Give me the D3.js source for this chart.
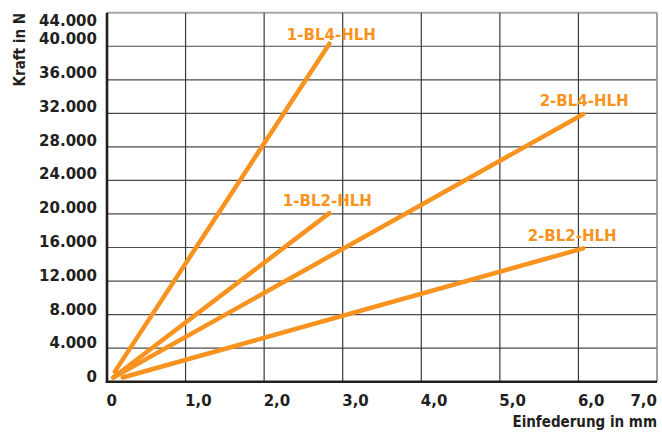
<!DOCTYPE html>
<html>
<head>
<meta charset="utf-8">
<script src="https://cdn.jsdelivr.net/npm/d3@7"></script>
<style>
    body { margin: 0; background: #fff; }
    svg { display: block; }
</style>
</head>
<body>
<svg id="chart" width="662" height="438"></svg>
<script>
// values
const seriesNames = ["1-BL4-HLH", "1-BL2-HLH", "2-BL4-HLH", "2-BL2-HLH"];
const seriesX = [
    [0.10, 2.83],
    [0.08, 2.83],
    [0.08, 6.06],
    [0.20, 6.06]
];
const seriesY = [
    [1200, 40300],
    [500, 20100],
    [500, 31900],
    [500, 15900]
];
const xTicks = [0, 1, 2, 3, 4, 5, 6, 7];
const xTickLabels = ["0", "1,0", "2,0", "3,0", "4,0", "5,0", "6,0", "7,0"];
const yTicks = [0, 4000, 8000, 12000, 16000, 20000, 24000, 28000, 32000, 36000, 40000, 44000];
const yTickLabels = ["0", "4.000", "8.000", "12.000", "16.000", "20.000", "24.000", "28.000", "32.000", "36.000", "40.000", "44.000"];

const orange = "#f7931e",
    ink = "#231f20";

const margin = {top: 12.7, right: 5, bottom: 56.3, left: 107},
    width = 662 - margin.left - margin.right,
    height = 438 - margin.top - margin.bottom;

const x = d3.scaleLinear().domain([0, 7]).range([0, width]);
const y = d3.scaleLinear().domain([0, 44000]).range([height, 0]);

const svg = d3.select("#chart");
const g = svg.append("g")
    .attr("transform", `translate(${margin.left},${margin.top})`);

// grid
g.append("g")
    .selectAll("line")
    .data(yTicks.filter(v => v > 0))
    .join("line")
    .attr("x1", 0)
    .attr("x2", width)
    .attr("y1", d => y(d))
    .attr("y2", d => y(d))
    .style("stroke", d => d === 44000 ? "#a8a8a8" : "#4a4a4a")
    .style("stroke-width", d => d === 44000 ? 2 : 1.2);

g.append("g")
    .selectAll("line")
    .data(xTicks.filter(v => v > 0))
    .join("line")
    .attr("x1", d => x(d))
    .attr("x2", d => x(d))
    .attr("y1", 0)
    .attr("y2", height)
    .style("stroke", d => d === 7 ? "#8a8a8a" : "#3a3a3a")
    .style("stroke-width", d => d === 7 ? 1.6 : 1.2);

// axes
g.append("line")
    .attr("x1", 0).attr("x2", 0)
    .attr("y1", 0).attr("y2", height + 1.2)
    .style("stroke", ink)
    .style("stroke-width", 2.6);

g.append("line")
    .attr("x1", -1.2).attr("x2", width)
    .attr("y1", height).attr("y2", height)
    .style("stroke", ink)
    .style("stroke-width", 2.6);

// tick labels
g.append("g")
    .selectAll("text")
    .data(yTicks)
    .join("text")
    .attr("x", -10)
    .attr("y", d => d === 44000 ? y(d) + 8 : y(d) - 5 - d / 44000 * 2.5)
    .attr("dy", "0.36em")
    .attr("text-anchor", "end")
    .style("font-family", "DejaVu Sans")
    .style("font-weight", "bold")
    .style("font-size", "15px")
    .style("fill", ink)
    .text((d, i) => yTickLabels[i]);

g.append("g")
    .selectAll("text")
    .data(xTicks)
    .join("text")
    .attr("x", d => d === 7 ? x(d) : x(d) - 0.5)
    .attr("y", height + 18.5)
    .attr("dy", "0.36em")
    .attr("text-anchor", d => d === 7 ? "end" : "start")
    .style("font-family", "DejaVu Sans")
    .style("font-weight", "bold")
    .style("font-size", "15px")
    .style("fill", ink)
    .text((d, i) => xTickLabels[i]);

// axis titles
svg.append("text")
    .attr("x", 657)
    .attr("y", 421.7)
    .attr("dy", "0.36em")
    .attr("text-anchor", "end")
    .style("font-family", "DejaVu Sans Condensed")
    .style("font-weight", "bold")
    .style("font-size", "15px")
    .style("fill", ink)
    .text("Einfederung in mm");

svg.append("text")
    .attr("transform", "translate(20,13) rotate(-90)")
    .attr("dy", "0.36em")
    .attr("text-anchor", "end")
    .style("font-family", "DejaVu Sans Condensed")
    .style("font-weight", "bold")
    .style("font-size", "15px")
    .style("fill", ink)
    .text("Kraft in N");

// series
const line = d3.line()
    .x(d => x(d[0]))
    .y(d => y(d[1]));

const labelShift = {
    "1-BL4-HLH": [2, -9],
    "1-BL2-HLH": [-2, -13],
    "2-BL4-HLH": [1, -14],
    "2-BL2-HLH": [-11, -13]
};

seriesNames.forEach((name, i) => {
    let pts = seriesX[i].map((v, j) => [v, seriesY[i][j]]);
    g.append("path")
        .attr("d", line(pts))
        .style("fill", "none")
        .style("stroke", orange)
        .style("stroke-width", 4.5)
        .style("stroke-linecap", "round");

    let end = pts[pts.length - 1];
    g.append("text")
        .attr("x", x(end[0]) + labelShift[name][0])
        .attr("y", y(end[1]) + labelShift[name][1])
        .attr("dy", "0.36em")
        .attr("text-anchor", "middle")
        .style("font-family", "DejaVu Sans")
        .style("font-weight", "bold")
        .style("font-size", "15px")
        .style("fill", orange)
        .text(name);
});
</script>
</body>
</html>
